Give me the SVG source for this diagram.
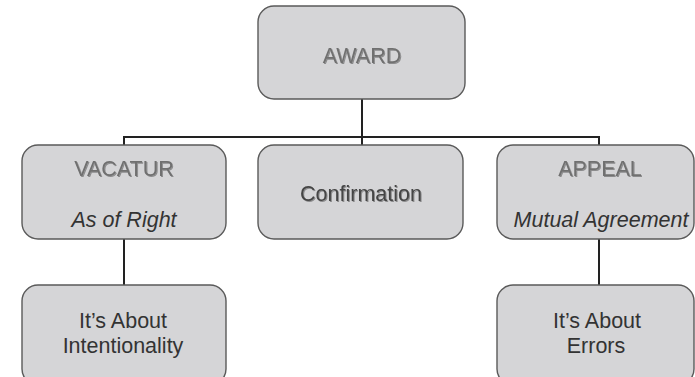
<svg xmlns="http://www.w3.org/2000/svg" width="695" height="377" viewBox="0 0 695 377">
<defs>
<style>
.box{fill:#d5d5d7;stroke:#5a5a5a;stroke-width:1.4}
.t{font-family:"Liberation Sans",Arial,sans-serif;font-size:21.5px;text-anchor:middle}
.h{fill:#707070}
.c{fill:#454545}
.i{fill:#333;font-style:italic}
.d{fill:#333}
.conn{stroke:#222;stroke-width:2;fill:none}
</style>
<filter id="sh" x="-10%" y="-20%" width="120%" height="140%">
<feDropShadow dx="1" dy="1" stdDeviation="0.6" flood-color="#000" flood-opacity="0.35"/>
</filter>
</defs>
<rect width="695" height="377" fill="#fff"/>
<g id="connectors">
<path class="conn" d="M362,99 V137 M124,145 V137 H599 V145 M362,137 V145 M124,239 V285 M599,239 V285"/>
</g>
<g id="award">
<rect class="box" x="258" y="6" width="207" height="93" rx="16"/>
<text class="t h" x="362" y="63" filter="url(#sh)">AWARD</text>
</g>
<g id="vacatur">
<rect class="box" x="22" y="145" width="204" height="94" rx="16"/>
<text class="t h" x="124" y="176" filter="url(#sh)">VACATUR</text>
<text class="t i" x="124" y="227">As of Right</text>
</g>
<g id="confirmation">
<rect class="box" x="258" y="145" width="205" height="94" rx="16"/>
<text class="t c" x="361" y="201" filter="url(#sh)">Confirmation</text>
</g>
<g id="appeal">
<rect class="box" x="497" y="145" width="197" height="94" rx="16"/>
<text class="t h" x="600" y="176" filter="url(#sh)">APPEAL</text>
<text class="t i" x="601" y="227">Mutual Agreement</text>
</g>
<g id="intentionality">
<rect class="box" x="22" y="285" width="204" height="100" rx="16"/>
<text class="t d" x="123" y="328">It’s About</text>
<text class="t d" x="123" y="353">Intentionality</text>
</g>
<g id="errors">
<rect class="box" x="497" y="285" width="197" height="100" rx="16"/>
<text class="t d" x="597" y="328">It’s About</text>
<text class="t d" x="596" y="353">Errors</text>
</g>
</svg>
